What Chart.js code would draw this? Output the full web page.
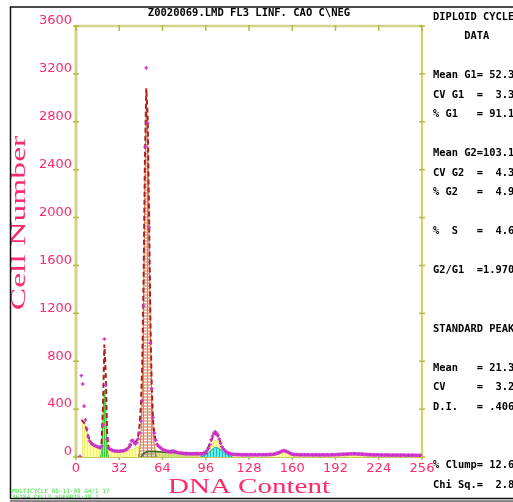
<!DOCTYPE html>
<html>
<head>
<meta charset="utf-8">
<script src="https://cdn.jsdelivr.net/npm/chart.js@4.4.0/dist/chart.umd.min.js"></script>
<style>
  html, body { margin: 0; padding: 0; background: #fff; }
  canvas { display: block; }
</style>
</head>
<body>
<canvas id="hist" width="513" height="502"></canvas>
<script>
// DNA histogram (MultiCycle style) - counts per channel, 0..255
const channelCounts = [
  null, null, null, 5, 680, 610, 425, 310, 235, 170,
  135, 120, 110, 100, 95, 90, 85, 80, 78, 90,
  270, 985, 600, 150, 75, 65, 60, 55, 52, 50,
  50, 48, 48, 50, 50, 52, 55, 62, 68, 80,
  105, 135, 140, 118, 110, 120, 150, 200, 300, 470,
  1260, 2590, 3250, 2790, 1920, 950, 570, 330, 200, 140,
  105, 92, 82, 72, 62, 58, 54, 50, 47, 45,
  45, 48, 50, 46, 42, 38, 36, 34, 32, 30,
  29, 28, 28, 27, 27, 26, 26, 27, 27, 28,
  28, 27, 27, 26, 25, 32, 40, 55, 72, 105,
  145, 175, 198, 211, 200, 184, 150, 115, 85, 68,
  55, 45, 38, 32, 28, 25, 23, 22, 21, 20,
  21, 19, 20, 18, 19, 20, 18, 19, 18, 20,
  19, 18, 20, 19, 18, 19, 21, 18, 19, 20,
  19, 20, 21, 20, 22, 21, 23, 25, 28, 32,
  36, 42, 47, 52, 53, 50, 46, 40, 34, 28,
  24, 22, 20, 21, 19, 20, 18, 19, 20, 18,
  19, 18, 20, 17, 19, 18, 17, 19, 18, 17,
  18, 17, 19, 18, 17, 18, 19, 17, 18, 19,
  20, 18, 19, 21, 20, 22, 21, 23, 24, 22,
  25, 24, 26, 27, 25, 28, 26, 27, 25, 24,
  26, 23, 24, 22, 21, 22, 20, 19, 20, 18,
  19, 17, 18, 19, 17, 16, 18, 17, 16, 17,
  18, 16, 17, 15, 16, 17, 15, 16, 17, 15,
  16, 15, 17, 16, 15, 14, 16, 15, 14, 16,
  15, 14, 15, 13, 14, 15
];

// model fit, channels 4..120
const fitStart = 4;
const fitCounts = [
  310, 300, 285, 265, 225, 175,
  140, 120, 108, 100, 94, 88, 83, 79, 78, 130,
  440, 940, 700, 210, 85, 64, 59, 55, 52, 50,
  49, 48, 48, 49, 50, 52, 55, 60, 67, 77,
  90, 105, 117, 122, 125, 140, 180, 260, 430, 760,
  1480, 2480, 3080, 2850, 2080, 1180, 600, 310, 190, 138,
  110, 92, 80, 71, 64, 58, 54, 51, 48, 46,
  46, 47, 48, 45, 41, 38, 35, 33, 31, 30,
  29, 28, 28, 27, 27, 27, 26, 26, 26, 26,
  27, 27, 28, 30, 34, 40, 50, 64, 84, 108,
  135, 160, 180, 190, 186, 172, 148, 118, 90, 68,
  52, 41, 34, 29, 26, 24, 22, 21, 20, 20, 19
];

// model components as [channel, count]
const debrisAggregates = [
  [5, 0], [5, 290], [6, 285], [7, 265], [8, 225], [9, 175], [10, 140], [11, 120],
  [12, 107], [13, 98], [14, 92], [15, 86], [16, 81], [17, 77], [18, 74], [20, 70],
  [22, 66], [25, 60], [28, 53], [32, 48], [36, 50], [40, 58], [43, 70], [46, 85],
  [49, 92], [52, 92], [55, 85], [58, 60], [61, 48], [65, 40], [69, 38], [71, 46],
  [73, 44], [76, 32], [80, 25], [85, 22], [90, 22], [95, 25], [98, 55], [100, 100],
  [102, 135], [104, 140], [106, 110], [108, 60], [110, 25], [113, 15], [120, 12],
  [140, 12], [148, 16], [152, 30], [155, 35], [158, 25], [162, 12], [200, 10], [256, 8]
];
const standardPeak = [[18, 0], [19, 40], [20, 350], [21, 560], [22, 450], [23, 60], [24, 0]];
const g1Peak = [
  [46, 0], [47, 40], [48, 180], [49, 520], [50, 1300], [51, 2350], [52, 2960],
  [53, 2750], [54, 1990], [55, 1100], [56, 520], [57, 230], [58, 90], [59, 20], [60, 0]
];
const g2Peak = [
  [92, 0], [95, 10], [97, 25], [99, 45], [101, 68], [103, 80], [105, 76],
  [107, 62], [109, 42], [111, 25], [113, 12], [116, 0]
];
const sPhase = [
  [48, 0], [50, 30], [53, 45], [58, 45], [65, 40], [75, 36], [85, 33],
  [95, 30], [100, 25], [104, 12], [106, 0]
];

const xTickValues = [0, 32, 64, 96, 128, 160, 192, 224, 256];
const yTickValues = [0, 400, 800, 1200, 1600, 2000, 2400, 2800, 3200, 3600];

const fileTitle = 'Z0020069.LMD FL3 LINF. CAO C\\NEG';
const panelLines = [
  'DIPLOID CYCLE', '     DATA', '',
  'Mean G1= 52.3', 'CV G1  =  3.3', '% G1   = 91.1', '',
  'Mean G2=103.1', 'CV G2  =  4.3', '% G2   =  4.9', '',
  '%  S   =  4.6', '',
  'G2/G1  =1.970', '', '',
  'STANDARD PEAK', '',
  'Mean   = 21.3', 'CV     =  3.2', 'D.I.   = .406', '', '',
  '% Clump= 12.6', 'Chi Sq.=  2.8'
];
const footerLines = ['MULTICYCLE 05-11-99 G4/1 17', '36184 CELLS %DEBRIS:18.7'];

const PINK = '#ff2a6a';

function pattern(w, h, paint) {
  const c = document.createElement('canvas');
  c.width = w; c.height = h;
  const g = c.getContext('2d');
  paint(g);
  return g.createPattern(c, 'repeat');
}

const yellowFill = pattern(3, 1, g => {
  g.fillStyle = '#ffffa4'; g.fillRect(0, 0, 3, 1);
  g.fillStyle = '#f0f078'; g.fillRect(0, 0, 1, 1);
});
const g1Fill = pattern(4, 3, g => {
  g.fillStyle = '#eab8a2'; g.fillRect(0, 0, 4, 3);
  g.fillStyle = '#fff6f0'; g.fillRect(0, 2, 3, 1);
  g.fillStyle = '#d8864a'; g.fillRect(3, 0, 1, 3);
});
const cyanFill = pattern(3, 1, g => {
  g.fillStyle = '#66eeee'; g.fillRect(0, 0, 3, 1);
  g.fillStyle = '#22bcbc'; g.fillRect(0, 0, 1, 1);
});
const greenFill = pattern(2, 1, g => {
  g.fillStyle = '#90f290'; g.fillRect(0, 0, 2, 1);
  g.fillStyle = '#40cc40'; g.fillRect(0, 0, 1, 1);
});

const toXY = arr => arr.map(([x, y]) => ({ x, y }));

// axes frame, crossing tick marks, texts
const decor = {
  id: 'decor',
  beforeDatasetsDraw(chart) {
    const { ctx, chartArea: a, scales } = chart;
    ctx.save();
    ctx.lineCap = 'butt';
    ctx.strokeStyle = '#d4d488'; ctx.lineWidth = 3;
    ctx.beginPath(); ctx.moveTo(a.left, a.bottom); ctx.lineTo(a.left, a.top); ctx.stroke();
    ctx.lineWidth = 2.5;
    ctx.beginPath(); ctx.moveTo(a.left, a.top); ctx.lineTo(a.right + 1, a.top); ctx.stroke();
    ctx.strokeStyle = '#c8c860'; ctx.lineWidth = 2;
    ctx.beginPath(); ctx.moveTo(a.left, a.bottom); ctx.lineTo(a.right, a.bottom); ctx.stroke();
    ctx.strokeStyle = '#c2c230'; ctx.lineWidth = 1.5;
    ctx.beginPath(); ctx.moveTo(a.right, a.top); ctx.lineTo(a.right, a.bottom + 1); ctx.stroke();

    ctx.strokeStyle = '#b8b848'; ctx.lineWidth = 1.5;
    xTickValues.forEach(v => {
      const px = scales.x.getPixelForValue(v);
      ctx.beginPath(); ctx.moveTo(px, a.top - 1); ctx.lineTo(px, a.top + 5); ctx.stroke();
      ctx.beginPath(); ctx.moveTo(px, a.bottom - 3); ctx.lineTo(px, a.bottom + 3); ctx.stroke();
    });
    yTickValues.forEach(v => {
      const py = scales.y.getPixelForValue(v);
      ctx.beginPath(); ctx.moveTo(a.left - 3, py); ctx.lineTo(a.left + 3, py); ctx.stroke();
      ctx.beginPath(); ctx.moveTo(a.right - 3, py); ctx.lineTo(a.right + 3, py); ctx.stroke();
    });
    ctx.restore();
  },
  afterDraw(chart) {
    const { ctx, chartArea: a } = chart;
    ctx.save();

    // axis titles, wide serif
    ctx.fillStyle = PINK;
    ctx.font = '21px "Liberation Serif"';
    ctx.textAlign = 'center';
    ctx.textBaseline = 'alphabetic';
    ctx.save();
    ctx.translate(25, 223);
    ctx.rotate(-Math.PI / 2);
    ctx.scale(1.6, 1);
    ctx.fillText('Cell Number', 0, 0);
    ctx.restore();
    ctx.save();
    ctx.translate((a.left + a.right) / 2, 493);
    ctx.scale(1.32, 1);
    ctx.font = '22px "Liberation Serif"';
    ctx.fillText('DNA Content', 0, 0);
    ctx.restore();

    // file title and results panel
    ctx.fillStyle = '#000';
    ctx.textBaseline = 'middle';
    ctx.font = 'bold 10.5px "DejaVu Sans Mono"';
    ctx.fillText(fileTitle, (a.left + a.right) / 2, 13);
    ctx.textAlign = 'left';
    ctx.font = 'bold 10.4px "DejaVu Sans Mono"';
    panelLines.forEach((t, i) => { if (t) ctx.fillText(t, 433, 17 + 19.5 * i); });

    // footer
    ctx.fillStyle = '#3ee03e';
    ctx.font = '6px "DejaVu Sans Mono"';
    footerLines.forEach((t, i) => ctx.fillText(t, 12, 491 + 6 * i));

    // outer frame
    ctx.strokeStyle = '#111'; ctx.lineWidth = 1.5;
    ctx.beginPath();
    ctx.moveTo(513, 7); ctx.lineTo(10.5, 7); ctx.lineTo(10.5, 498.5); ctx.lineTo(513, 498.5);
    ctx.stroke();
    ctx.fillStyle = '#8a8a8a';
    ctx.fillRect(10, 500, 503, 2);
    ctx.restore();
  }
};

Chart.defaults.font.family = '"DejaVu Sans", sans-serif';

new Chart(document.getElementById('hist'), {
  type: 'line',
  data: {
    datasets: [
      {
        label: 'Data',
        data: channelCounts.map((v, i) => ({ x: i, y: v })),
        showLine: false,
        pointStyle: 'cross',
        pointRadius: 1.8,
        pointBorderWidth: 1.4,
        borderColor: '#cc33cc',
        backgroundColor: '#cc33cc',
        order: 0
      },
      {
        label: 'Fit',
        data: fitCounts.map((v, i) => ({ x: fitStart + i, y: v })),
        borderColor: '#b41e1e',
        borderWidth: 2,
        borderDash: [5, 3],
        pointRadius: 0,
        fill: false,
        order: 1
      },
      {
        label: 'Standard',
        data: toXY(standardPeak),
        borderColor: '#33cc33',
        borderWidth: 1,
        backgroundColor: greenFill,
        pointRadius: 0,
        fill: 'origin',
        order: 2
      },
      {
        label: 'G2',
        data: toXY(g2Peak),
        borderColor: '#22aaaa',
        borderWidth: 1,
        backgroundColor: cyanFill,
        pointRadius: 0,
        fill: 'origin',
        order: 3
      },
      {
        label: 'S',
        data: toXY(sPhase),
        borderColor: '#3c6a1c',
        borderWidth: 1.5,
        backgroundColor: 'rgba(90,140,40,0.25)',
        pointRadius: 0,
        fill: 'origin',
        order: 4
      },
      {
        label: 'G1',
        data: toXY(g1Peak),
        borderColor: '#d07a3a',
        borderWidth: 1,
        backgroundColor: g1Fill,
        pointRadius: 0,
        fill: 'origin',
        order: 5
      },
      {
        label: 'Debris',
        data: toXY(debrisAggregates),
        borderColor: '#e6e65a',
        borderWidth: 1,
        backgroundColor: yellowFill,
        pointRadius: 0,
        fill: 'origin',
        order: 6
      }
    ]
  },
  options: {
    responsive: false,
    animation: false,
    devicePixelRatio: 1,
    layout: { padding: { left: 0, right: 91, top: 26, bottom: 0 } },
    plugins: { legend: { display: false }, tooltip: { enabled: false }, title: { display: false } },
    scales: {
      x: {
        type: 'linear',
        min: 0,
        max: 256,
        grid: { display: false, drawTicks: false },
        border: { display: false },
        afterBuildTicks: s => { s.ticks = xTickValues.map(v => ({ value: v })); },
        afterFit: s => { s.height = 45; },
        ticks: { color: PINK, font: { size: 13 }, padding: 4, maxRotation: 0, autoSkip: false,
                 callback: v => String(v) }
      },
      y: {
        min: 0,
        max: 3600,
        grid: { display: false, drawTicks: false },
        border: { display: false },
        afterBuildTicks: s => { s.ticks = yTickValues.map(v => ({ value: v })); },
        afterFit: s => { s.width = 76; },
        ticks: { color: PINK, font: { size: 13 }, padding: 4, labelOffset: -5, autoSkip: false,
                 callback: v => String(v) }
      }
    }
  },
  plugins: [decor]
});
</script>
</body>
</html>
